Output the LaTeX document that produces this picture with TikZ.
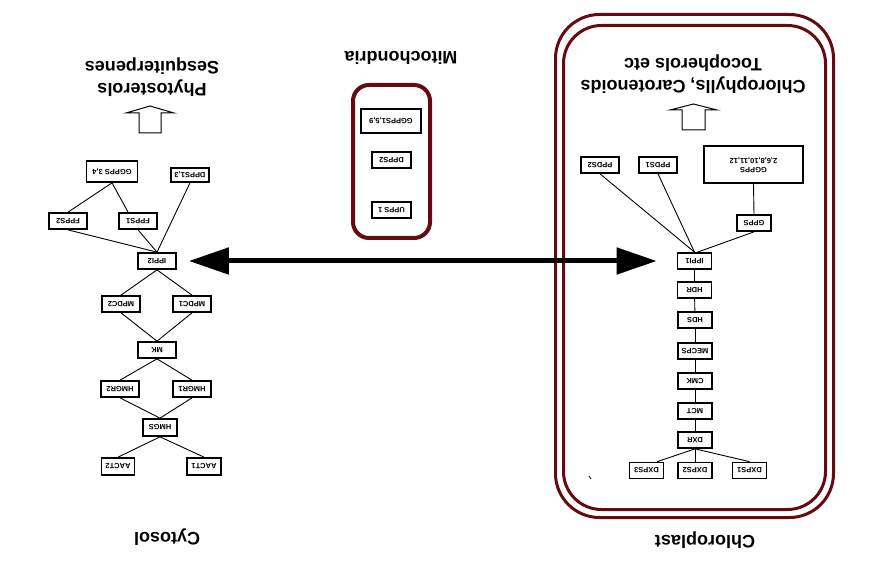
\documentclass[tikz,border=0pt]{standalone}
\usepackage{fontspec}
\setmainfont{Liberation Sans}
\usetikzlibrary{arrows.meta,calc}
\definecolor{maroon}{RGB}{100,10,16}
\newcommand{\updown}[1]{\rotatebox{180}{#1}}
\begin{document}
\begin{tikzpicture}[x=1pt,y=-1pt,
  box/.style={draw,line width=1.7pt,inner sep=0pt,minimum width=38pt,minimum height=16pt,font=\fontsize{7.5}{9}\selectfont\bfseries},
  conn/.style={line width=0.9pt},
  biglabel/.style={font=\fontsize{18}{22}\selectfont\bfseries,inner sep=0pt},
  hollow/.style={draw,line width=1pt,fill=white},
  wall/.style={draw=maroon,line width=3pt},
  bigarrow/.style={line width=5pt,{Triangle[length=40pt,width=26pt]}-{Triangle[length=40pt,width=26pt]}}]
\useasboundingbox[fill=white] (0,0) rectangle (871,561);

% compartments
\draw[wall,rounded corners=44pt] (555.5,14.5) rectangle (833.5,517.5);
\draw[wall,rounded corners=38pt] (563.5,25.5) rectangle (825.5,509.5);
\draw[draw=maroon,line width=4pt,rounded corners=16pt] (353,85) rectangle (430,238);

% labels
\node[biglabel] (cyt) at (167,537) {\updown{Cytosol}};
\node[biglabel] (chl) at (705,540) {\updown{Chloroplast}};
\node[biglabel] (mit) at (401,58) {\updown{Mitochondria}};
\node[biglabel] (phy) at (152,76.5) {\updown{\begin{tabular}{@{}c@{}}Phytosterols\\Sesquiterpenes\end{tabular}}};
\node[biglabel] (car) at (693,73.5) {\updown{\begin{tabular}{@{}c@{}}Chlorophylls, Carotenoids\\Tocopherols etc\end{tabular}}};

% hollow arrows
\draw[hollow] (139,133) -- (139,113) -- (126,113) -- (150,106) -- (174,113) -- (161,113) -- (161,133) -- cycle;
\draw[hollow] (682,130) -- (682,110) -- (670,110) -- (693.5,104) -- (717,110) -- (705,110) -- (705,130) -- cycle;

% cytosol
\node[box,minimum width=51pt,minimum height=21pt] (ggpps34) at (112,171.5) {\updown{GGPPS 3,4}};
\node[box,minimum height=14pt] (dpps13) at (190,175) {\updown{DPPS1,3}};
\node[box] (fpps2) at (68,221) {\updown{FPPS2}};
\node[box] (fpps1) at (138,221) {\updown{FPPS1}};
\node[box] (ippi2) at (157,261) {\updown{IPPI2}};
\node[box] (mpdc2) at (121,304) {\updown{MPDC2}};
\node[box] (mpdc1) at (192,304) {\updown{MPDC1}};
\node[box] (mk) at (157,350) {\updown{MK}};
\node[box] (hmgr2) at (120,389) {\updown{HMGR2}};
\node[box] (hmgr1) at (192,389) {\updown{HMGR1}};
\node[box,minimum width=34pt,minimum height=17pt] (hmgs) at (160,427.5) {\updown{HMGS}};
\node[box,minimum width=33pt,minimum height=17pt] (aact2) at (118,466.5) {\updown{AACT2}};
\node[box,minimum width=34pt,minimum height=17pt] (aact1) at (204,466.5) {\updown{AACT1}};

\draw[conn] (ggpps34.south) -- (fpps2.north);
\draw[conn] (ggpps34.south) -- ($(fpps1.north west)!0.25!(fpps1.north east)$);
\draw[conn] (fpps2.south) -- (ippi2.north);
\draw[conn] (fpps1.south) -- (ippi2.north);
\draw[conn] (dpps13.south) -- (ippi2.north);
\draw[conn] (ippi2.south) -- (mpdc2.north);
\draw[conn] (ippi2.south) -- (mpdc1.north);
\draw[conn] (mpdc2.south) -- (mk.north);
\draw[conn] (mpdc1.south) -- (mk.north);
\draw[conn] (mk.south) -- (hmgr2.north);
\draw[conn] (mk.south) -- (hmgr1.north);
\draw[conn] (hmgr2.south) -- (hmgs.north);
\draw[conn] (hmgr1.south) -- (hmgs.north);
\draw[conn] (hmgs.south) -- (aact2.north);
\draw[conn] (hmgs.south) -- (aact1.north);

% mitochondria
\node[box,minimum width=60pt,minimum height=24pt] (ggpps159) at (391,121) {\updown{GGPPS1,5,9}};
\node[box,minimum width=39pt] (dpps2) at (391.5,160) {\updown{DPPS2}};
\node[box,minimum width=39pt] (upps1) at (391.5,210) {\updown{UPPS 1}};

% chloroplast
\node[box,minimum width=99pt,minimum height=37pt] (ggpps) at (753.5,164.5) {\updown{\begin{tabular}{@{}c@{}}GGPPS\\2,6,8,10,11,12\end{tabular}}};
\node[box] (ppds1) at (658,165) {\updown{PPDS1}};
\node[box] (ppds2) at (600,165) {\updown{PPDS2}};
\node[box,minimum width=34pt] (gpps) at (754,223) {\updown{GPPS}};
\node[box,minimum width=34pt] (ippi1) at (694.5,261) {\updown{IPPI1}};
\node[box,minimum width=34pt] (hdr) at (694.5,290) {\updown{HDR}};
\node[box,minimum width=34pt] (hds) at (695,320) {\updown{HDS}};
\node[box,minimum width=34pt] (mecps) at (695,351) {\updown{MECPS}};
\node[box,minimum width=34pt] (cmk) at (695,381) {\updown{CMK}};
\node[box,minimum width=34pt] (mct) at (695,411) {\updown{MCT}};
\node[box,minimum width=34pt] (dxr) at (695,440) {\updown{DXR}};
\node[box,minimum width=34pt] (dxps3) at (646.5,470.5) {\updown{DXPS3}};
\node[box,minimum width=34pt] (dxps2) at (695,470.5) {\updown{DXPS2}};
\node[box,minimum width=34pt] (dxps1) at (749.5,470.5) {\updown{DXPS1}};

\draw[conn] (ggpps.south) -- (gpps.north);
\draw[conn] (gpps.south) -- ($(ippi1.north)+(3,0)$);
\draw[conn] (ppds1.south) -- (ippi1.north);
\draw[conn] (ppds2.south) -- (ippi1.north);
\draw[conn] (ippi1) -- (hdr);
\draw[conn] (hdr) -- (hds);
\draw[conn] (hds) -- (mecps);
\draw[conn] (mecps) -- (cmk);
\draw[conn] (cmk) -- (mct);
\draw[conn] (mct) -- (dxr);
\draw[conn] (dxr.south) -- ($(dxps3.north)!0.6!(dxps3.north east)$);
\draw[conn] (dxr.south) -- (dxps2.north);
\draw[conn] (dxr.south) -- (dxps1.north);

% exchange arrow
\draw[bigarrow,shorten <=12pt,shorten >=20pt] (ippi2.east) -- (ippi1.west);

% stray mark
\draw[line width=0.8pt] (589,476) -- (591,479);
\end{tikzpicture}
\end{document}
